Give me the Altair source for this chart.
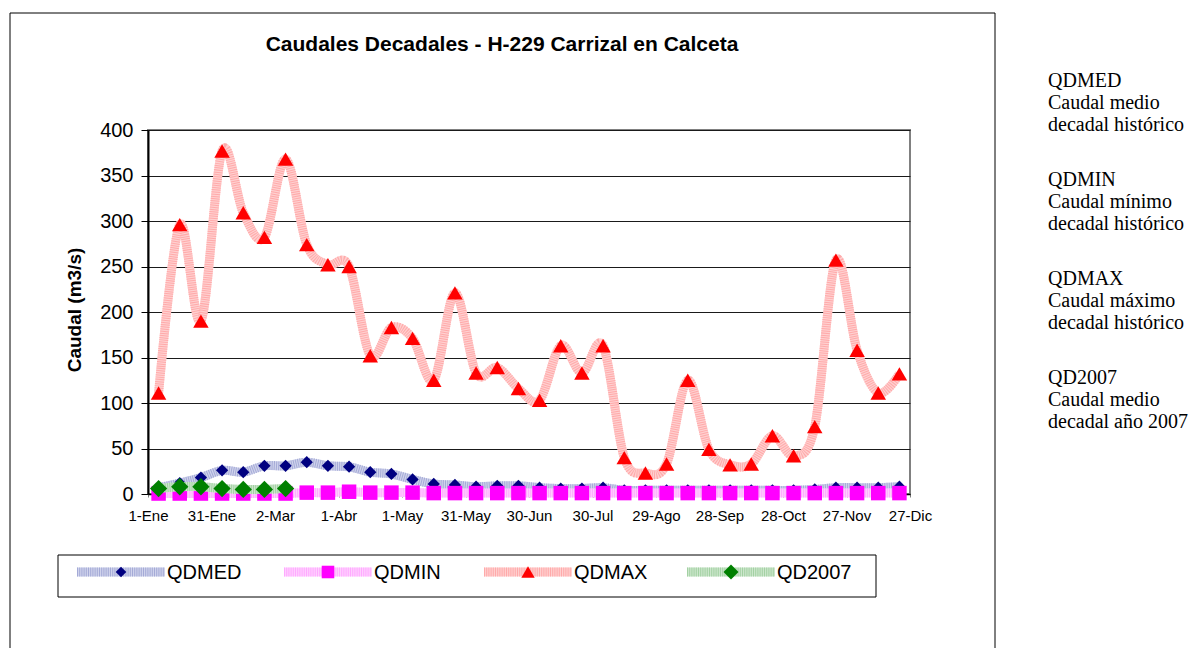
import altair as alt
import pandas as pd

# ---------------- data ----------------
x_labels = ["1-Ene", "31-Ene", "2-Mar", "1-Abr", "1-May", "31-May", "30-Jun",
            "30-Jul", "29-Ago", "28-Sep", "28-Oct", "27-Nov", "27-Dic"]

qdmed = [7, 12, 18, 26, 24, 31, 31, 35, 31, 30, 24, 22, 16, 11, 10, 8, 9, 9,
         7, 6, 6, 7, 4, 4, 4, 4, 4, 4, 4, 4, 4, 5, 7, 7, 7, 8]
qdmin = [0.5, 0.5, 0.5, 0.5, 0.5, 0.5, 0.5, 1.5, 1.5, 2.5, 1.5, 1.5, 1.5, 1, 1, 1,
         1, 1, 1, 1, 1, 1, 1, 1, 1, 1, 1, 1, 1, 1, 1, 1, 1, 1, 1, 1]
qdmax = [111, 296, 190, 377, 309, 282, 368, 274, 252, 250, 152, 183, 171, 125,
         221, 133, 139, 116, 103, 163, 133, 163, 40, 23, 33, 125, 49, 32, 33, 64,
         42, 74, 257, 158, 111, 132]
qd2007 = [6, 8, 8, 6, 5, 5, 6]

series_names = ["QDMED", "QDMIN", "QDMAX", "QD2007"]
series_notes = [
    ["QDMED", "Caudal medio", "decadal histórico"],
    ["QDMIN", "Caudal mínimo", "decadal histórico"],
    ["QDMAX", "Caudal máximo", "decadal histórico"],
    ["QD2007", "Caudal medio", "decadal año 2007"],
]

title_text = "Caudales Decadales - H-229 Carrizal en Calceta"
y_title = "Caudal (m3/s)"

SANS = "Liberation Sans, Arial, sans-serif"
SERIF = "Liberation Serif, Times New Roman, serif"

# plot area origin on page: (148, 130)
OX, OY = 148, 130


def frame(vals):
    return pd.DataFrame({"d": [i + 0.5 for i in range(len(vals))], "q": vals})


label_expr = "[" + ",".join(f"'{l}'" for l in x_labels) + "][round(datum.value/3)]"

x_enc = alt.X(
    "d:Q",
    scale=alt.Scale(domain=[0, 36], nice=False, zero=False),
    axis=alt.Axis(values=list(range(0, 37, 3)), labelExpr=label_expr, title=None,
                  grid=False, tickSize=3, tickColor="#808080", domainColor="#000000",
                  domainWidth=1.5, labelFont=SANS, labelFontSize=15, labelColor="#000000",
                  labelPadding=11, labelOverlap=False, labelBound=False, labelFlush=False),
)
y_enc = alt.Y(
    "q:Q",
    scale=alt.Scale(domain=[0, 400], nice=False, zero=True),
    axis=alt.Axis(values=list(range(0, 401, 50)), title=None, grid=True,
                  gridColor="#1a1a1a", gridWidth=1, tickSize=7, tickColor="#000000",
                  domainColor="#000000", domainWidth=2, labelFont=SANS, labelFontSize=20,
                  labelColor="#000000", labelPadding=8, labelOverlap=False),
)

styles = {
    "QDMED": dict(base="#d0d3ec", stripe="#a4aad6", shape="diamond", fill="#000080", size=150),
    "QDMIN": dict(base="#ffd0ff", stripe="#ffaaff", shape="square", fill="#ff00ff", size=210),
    "QDMAX": dict(base="#ffd0d0", stripe="#ffaaaa", shape="triangle-up", fill="#ff0000", size=240),
    "QD2007": dict(base="#cce6cc", stripe="#a3d1a3", shape="diamond", fill="#008000", size=300),
}
values = {"QDMED": qdmed, "QDMIN": qdmin, "QDMAX": qdmax, "QD2007": qd2007}


def series_layers(name):
    st = styles[name]
    src = alt.Chart(frame(values[name]))
    l1 = src.mark_line(interpolate="cardinal", color=st["base"], strokeWidth=9).encode(x=x_enc, y=y_enc)
    l2 = src.mark_line(interpolate="cardinal", color=st["stripe"], strokeWidth=9,
                       strokeDash=[1, 1.2]).encode(x=x_enc, y=y_enc)
    p = src.mark_point(shape=st["shape"], filled=True, color=st["fill"], size=st["size"],
                       opacity=1).encode(x=x_enc, y=y_enc)
    return [l1, l2, p]


one = alt.Chart(pd.DataFrame({"a": [0]}))

layers = []

# outer chart border
layers.append(one.mark_rect(fill="transparent", stroke="#000000", strokeWidth=1).encode(
    x=alt.value(10 - OX), x2=alt.value(995 - OX), y=alt.value(13 - OY), y2=alt.value(700)))

for n in series_names:
    layers += series_layers(n)

# chart title
layers.append(one.mark_text(text=title_text, font=SANS, fontSize=21, fontWeight="bold",
                            align="center", baseline="middle", color="#000000").encode(
    x=alt.value(502 - OX), y=alt.value(45 - OY)))

# y title
layers.append(one.mark_text(text=y_title, font=SANS, fontSize=19, fontWeight="bold",
                            align="center", baseline="middle", angle=270, color="#000000").encode(
    x=alt.value(75 - OX), y=alt.value(310 - OY)))

# legend box
layers.append(one.mark_rect(fill="white", stroke="#000000", strokeWidth=1).encode(
    x=alt.value(58 - OX), x2=alt.value(876 - OX), y=alt.value(555 - OY), y2=alt.value(597 - OY)))

leg_starts = [77, 284, 484, 687]
leg_y = 572 - OY
for n, x0 in zip(series_names, leg_starts):
    st = styles[n]
    xs, xe = x0 - OX, x0 + 88 - OX
    layers.append(one.mark_rule(color=st["base"], strokeWidth=9).encode(
        x=alt.value(xs), x2=alt.value(xe), y=alt.value(leg_y)))
    layers.append(one.mark_rule(color=st["stripe"], strokeWidth=9, strokeDash=[1, 1.2]).encode(
        x=alt.value(xs), x2=alt.value(xe), y=alt.value(leg_y)))
    layers.append(one.mark_point(shape=st["shape"], filled=True, color=st["fill"],
                                 size=st["size"] * 0.75, opacity=1).encode(
        x=alt.value((xs + xe) / 2), y=alt.value(leg_y)))
    layers.append(one.mark_text(text=n, font=SANS, fontSize=20, align="left",
                                baseline="middle", color="#000000").encode(
        x=alt.value(xe + 2), y=alt.value(leg_y + 1)))

# notes on the right
block_top = [87, 186, 285, 384]
for lines, b in zip(series_notes, block_top):
    for k, t in enumerate(lines):
        layers.append(one.mark_text(text=t, font=SERIF, fontSize=20, align="left",
                                    baseline="alphabetic", color="#000000").encode(
            x=alt.value(1048 - OX), y=alt.value(b + 22 * k - OY)))

chart = alt.layer(*layers).properties(
    width=762, height=364,
    padding={"left": 140, "top": 122, "right": 282, "bottom": 154},
    autosize=alt.AutoSizeParams(type="none"),
    background="white",
).configure_view(stroke="#808080", strokeWidth=2)

chart.save("out.html", embed_options={"renderer": "svg", "actions": False})
